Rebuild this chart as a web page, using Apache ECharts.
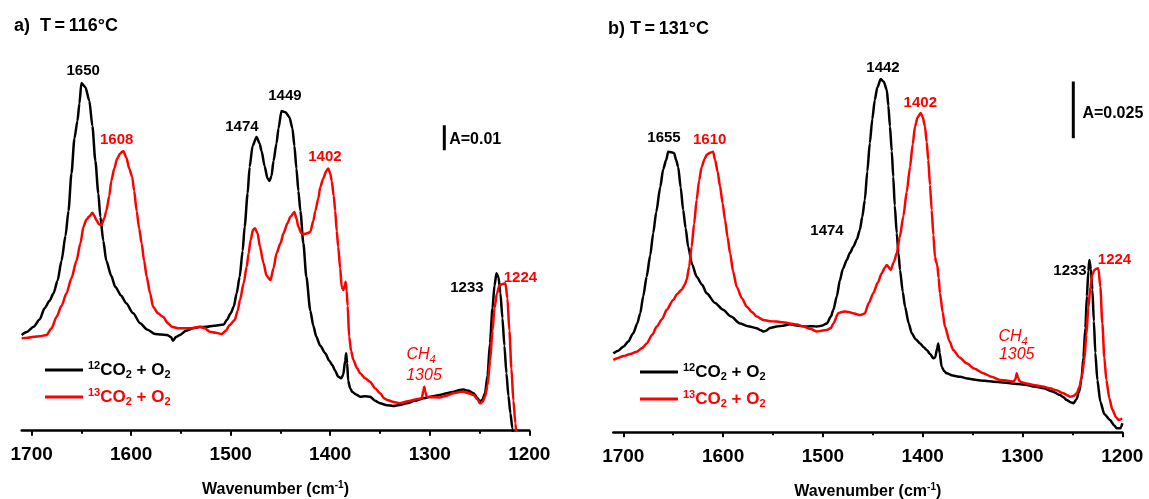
<!DOCTYPE html>
<html>
<head>
<meta charset="utf-8">
<script src="https://cdn.jsdelivr.net/npm/echarts@6/dist/echarts.min.js"></script>
<style>
  html, body { margin: 0; padding: 0; background: #fff; }
  #chart { width: 1149px; height: 499px; }
</style>
</head>
<body>
<div id="chart"></div>
<script>
const FONT = '"Liberation Sans", Arial, Helvetica, sans-serif';

// IR spectra: [wavenumber cm-1, absorbance]
// a) T = 116 °C
const spec116_12CO2 = [
  [1710,0.0383],[1705,0.0395],[1698,0.0416],[1692,0.0445],[1687,0.049],[1682,0.052],[1678,0.055],
  [1674,0.060],[1670,0.068],[1666,0.078],[1663,0.088],[1660,0.103],[1657,0.117],[1654,0.124],
  [1652,0.131],[1650,0.1392],[1646,0.1375],[1642,0.132],[1639,0.122],[1636,0.108],[1633,0.095],
  [1631,0.0856],[1628,0.076],[1625,0.068],[1620,0.062],[1616,0.0576],[1610,0.054],[1605,0.051],
  [1598,0.047],[1591,0.043],[1584,0.0405],[1576,0.0387],[1570,0.0385],[1564,0.0383],[1560,0.0375],
  [1558,0.036],[1555,0.0375],[1551,0.0383],[1545,0.040],[1538,0.041],[1531,0.0415],[1524,0.0416],
  [1517,0.042],[1511,0.0423],[1507,0.0425],[1504,0.0443],[1500,0.047],[1497,0.0496],[1494,0.055],
  [1491,0.0616],[1488,0.072],[1486,0.0816],[1483,0.095],[1481,0.1056],[1478,0.114],[1474,0.1176],
  [1471,0.115],[1469,0.112],[1466,0.106],[1463,0.101],[1461,0.100],[1459,0.102],[1457,0.108],
  [1454,0.115],[1452,0.121],[1449,0.128],[1445,0.1275],[1441,0.1255],[1438,0.121],[1436,0.114],
  [1434,0.105],[1432,0.096],[1430,0.088],[1427,0.075],[1424,0.0616],[1420,0.048],[1417,0.042],
  [1414,0.0376],[1410,0.034],[1405,0.031],[1401,0.028],[1398,0.0263],[1395,0.024],[1392,0.0216],
  [1389,0.021],[1387,0.0223],[1385,0.028],[1384,0.031],[1383,0.027],[1382,0.020],[1380,0.017],
  [1378,0.0156],[1374,0.0145],[1370,0.0136],[1365,0.0138],[1360,0.0136],[1355,0.012],[1350,0.011],
  [1343,0.0102],[1337,0.0099],[1330,0.0103],[1323,0.011],[1315,0.012],[1306,0.013],[1298,0.0137],
  [1290,0.0143],[1283,0.015],[1276,0.0156],[1270,0.0163],[1266,0.0165],[1261,0.016],[1256,0.015],
  [1252,0.013],[1249.5,0.0116],[1247,0.0125],[1244.5,0.015],[1242,0.022],[1239.5,0.035],
  [1237,0.049],[1235,0.058],[1233,0.063],[1231,0.0615],[1229,0.055],[1227,0.045],[1225,0.034],
  [1223,0.023],[1221,0.014],[1219,0.007],[1217,0.001],[1214,-0.01],[1210,-0.02]
];
const spec116_13CO2 = [
  [1710,0.037],[1704,0.0372],[1698,0.0376],[1692,0.0378],[1685,0.0383],[1680,0.041],[1675,0.0456],
  [1670,0.050],[1665,0.055],[1660,0.061],[1655,0.068],[1651,0.075],[1648,0.0816],[1645,0.0845],
  [1642,0.0858],[1639,0.0872],[1637,0.086],[1635,0.0843],[1632,0.0825],[1630,0.0823],[1627,0.085],
  [1625,0.088],[1622,0.094],[1620,0.100],[1617,0.105],[1614,0.109],[1611,0.111],[1608,0.112],
  [1605,0.1095],[1602,0.105],[1599,0.1016],[1597,0.096],[1594.5,0.088],[1592,0.081],[1589.5,0.075],
  [1587,0.068],[1584.4,0.0616],[1581,0.055],[1578,0.0496],[1573,0.047],[1568,0.0456],[1563,0.043],
  [1559,0.0416],[1553,0.041],[1547.6,0.041],[1540,0.041],[1531,0.0416],[1526,0.041],[1521,0.0396],
  [1515,0.0392],[1509,0.0387],[1505,0.040],[1501,0.0423],[1496,0.0443],[1493,0.048],[1490.7,0.0523],
  [1487,0.059],[1484,0.0656],[1482,0.071],[1480,0.0763],[1477.5,0.0805],[1475.6,0.081],[1473,0.079],
  [1470.6,0.0736],[1467,0.067],[1464,0.062],[1460,0.0603],[1457,0.065],[1454,0.071],[1450,0.075],
  [1447,0.079],[1443,0.083],[1440,0.0856],[1436,0.0876],[1434,0.085],[1432,0.0816],[1429,0.079],
  [1427,0.0787],[1423,0.079],[1420,0.0796],[1417,0.084],[1415,0.088],[1412,0.093],[1410,0.0976],
  [1407,0.101],[1404,0.104],[1402,0.105],[1400,0.103],[1398.5,0.100],[1396.5,0.094],[1395,0.088],
  [1393.5,0.080],[1392,0.0736],[1390,0.065],[1388.5,0.0576],[1387,0.0563],[1385.5,0.058],
  [1384.5,0.0596],[1383.5,0.056],[1382.5,0.050],[1381,0.0376],[1379,0.032],[1376.8,0.0283],
  [1373,0.025],[1370,0.023],[1365,0.021],[1360,0.0196],[1355,0.017],[1350,0.015],[1346,0.013],
  [1343,0.0123],[1336,0.0115],[1330,0.011],[1322,0.0118],[1313,0.0126],[1308,0.013],[1306.5,0.016],
  [1305.5,0.0176],[1304.5,0.0155],[1303,0.0136],[1297,0.0134],[1290,0.0133],[1283,0.014],
  [1276,0.015],[1270,0.0155],[1266,0.0156],[1261,0.015],[1256,0.0143],[1252,0.0125],[1249.5,0.011],
  [1247,0.0115],[1244.5,0.0136],[1242,0.018],[1239.4,0.028],[1237,0.040],[1235,0.049],[1232.5,0.055],
  [1230,0.0582],[1227,0.0587],[1224,0.059],[1222,0.053],[1220,0.040],[1218,0.025],[1216,0.012],
  [1214,0.003],[1212,-0.006],[1208,-0.02]
];
// b) T = 131 °C
const spec131_12CO2 = [
  [1710,0.0348],[1705,0.036],[1700,0.0377],[1695,0.040],[1690,0.0437],[1686,0.048],[1683,0.0525],
  [1680,0.060],[1676.6,0.0686],[1673,0.078],[1670,0.0878],[1667,0.097],[1663,0.108],[1660,0.116],
  [1657,0.120],[1655,0.1237],[1652,0.1235],[1649,0.123],[1647,0.120],[1645,0.117],[1642.5,0.108],
  [1640,0.098],[1637.5,0.090],[1635,0.0818],[1631,0.074],[1626.5,0.0686],[1621,0.065],[1616.5,0.0613],
  [1608,0.057],[1600,0.054],[1592,0.051],[1583,0.048],[1575,0.0468],[1566.5,0.0459],[1562,0.045],
  [1560,0.0444],[1557,0.0448],[1553,0.046],[1546.3,0.0466],[1540,0.047],[1533,0.0476],[1525,0.047],
  [1516,0.0466],[1510,0.0468],[1506,0.0466],[1501,0.047],[1496,0.048],[1492,0.051],[1489.5,0.054],
  [1486,0.060],[1483,0.067],[1480,0.072],[1476,0.076],[1473,0.079],[1469.5,0.0818],[1466,0.085],
  [1463,0.0892],[1460.5,0.095],[1458,0.1024],[1455.5,0.115],[1453,0.1274],[1450.5,0.138],
  [1448,0.1465],[1445.5,0.152],[1442,0.1557],[1439,0.1545],[1436,0.151],[1434.4,0.144],
  [1432.8,0.1348],[1431,0.124],[1429.5,0.1127],[1428,0.100],[1426,0.0878],[1424.3,0.079],
  [1422.7,0.0716],[1420,0.062],[1417.7,0.0554],[1414,0.048],[1411,0.0437],[1407,0.041],
  [1402.7,0.0392],[1399,0.0375],[1396,0.0363],[1392.5,0.0345],[1389.4,0.0326],[1387.5,0.033],
  [1385.5,0.037],[1384.4,0.0392],[1383,0.035],[1381,0.0289],[1378.5,0.027],[1376,0.026],[1370,0.025],
  [1362.6,0.0245],[1355,0.0237],[1346,0.023],[1338,0.0227],[1329,0.0223],[1320,0.022],
  [1312.5,0.0216],[1304,0.0213],[1295.8,0.0209],[1288,0.0202],[1279,0.0194],[1270,0.018],
  [1262.4,0.0164],[1259,0.0155],[1255.7,0.0142],[1252,0.0133],[1249,0.0128],[1246,0.0145],
  [1243.5,0.0175],[1241,0.023],[1239,0.033],[1237,0.046],[1235.5,0.060],[1234,0.071],[1233,0.076],
  [1231.5,0.072],[1230,0.063],[1228.5,0.049],[1227,0.035],[1225,0.023],[1222,0.0135],[1218,0.008],
  [1212.3,0.0054],[1208,0.003],[1205.6,0.0018],[1202,0.0018],[1201,0.0025],[1200,0.004]
];
const spec131_13CO2 = [
  [1710,0.0319],[1705,0.0328],[1700,0.0336],[1693,0.0345],[1686.6,0.0355],[1681,0.0372],
  [1676.5,0.0392],[1671,0.043],[1666.5,0.0466],[1661,0.050],[1656.5,0.054],[1650,0.0583],
  [1646,0.061],[1641.5,0.0628],[1638.5,0.065],[1636.5,0.0672],[1634,0.073],[1631.5,0.0818],
  [1629,0.092],[1626.5,0.1024],[1624,0.111],[1621.5,0.117],[1618.5,0.1205],[1616.5,0.1223],
  [1613,0.1232],[1610,0.1237],[1608,0.120],[1605.5,0.115],[1603,0.1083],[1600.5,0.101],
  [1598,0.0936],[1595.5,0.086],[1593,0.0789],[1590,0.071],[1586.4,0.0642],[1581,0.059],
  [1576.4,0.0554],[1571,0.053],[1566.3,0.051],[1559.7,0.0495],[1553,0.049],[1546.3,0.0488],
  [1540,0.0485],[1533,0.048],[1526,0.0475],[1519.6,0.0466],[1512,0.0455],[1506,0.0444],
  [1501,0.0448],[1496,0.0451],[1492,0.046],[1489.5,0.048],[1484.6,0.0525],[1481,0.053],
  [1478,0.0532],[1474,0.053],[1469.5,0.0525],[1466,0.052],[1463,0.0517],[1460,0.052],[1458,0.0525],
  [1454,0.057],[1449.5,0.0613],[1445,0.066],[1441,0.0701],[1438,0.0725],[1436,0.0738],[1432,0.0716],
  [1429,0.075],[1426,0.0789],[1423,0.086],[1419.4,0.0951],[1416,0.106],[1412.7,0.117],[1410,0.127],
  [1407.7,0.1348],[1405,0.139],[1402,0.1407],[1400,0.139],[1397.7,0.1348],[1396,0.128],
  [1394.4,0.120],[1392.7,0.109],[1391,0.098],[1389.3,0.087],[1387.7,0.0774],[1386.5,0.075],
  [1385.4,0.0738],[1384,0.068],[1382.7,0.0613],[1380,0.053],[1377.7,0.0466],[1373,0.040],
  [1369.4,0.0363],[1363,0.033],[1356,0.0304],[1348,0.028],[1339.3,0.026],[1331,0.0245],
  [1322.6,0.0231],[1315,0.0227],[1309,0.0223],[1307,0.0235],[1305.8,0.026],[1304.5,0.024],
  [1302.5,0.0223],[1296,0.0215],[1289,0.0209],[1280,0.0202],[1272.4,0.0194],[1266,0.0185],
  [1259,0.0172],[1255,0.0163],[1252.3,0.0157],[1249,0.016],[1245.6,0.0172],[1243,0.020],
  [1240.6,0.0245],[1238,0.032],[1236,0.043],[1234,0.055],[1232,0.064],[1230,0.0695],[1228,0.0715],
  [1226,0.0721],[1224,0.0723],[1222,0.064],[1220,0.048],[1218,0.033],[1216,0.023],[1213,0.015],
  [1210,0.010],[1206,0.0065],[1203.7,0.0054],[1201.5,0.0058],[1200.3,0.0062]
];

// axis ticks
const majorTicks = [1700, 1600, 1500, 1400, 1300, 1200];
const minorTicks = [1650, 1550, 1450, 1350, 1250];

// series names (legend)
const NAME12 = '12CO2 + O2';
const NAME13 = '13CO2 + O2';

// band annotations: text, anchor (wavenumber, absorbance), colour
const bandLabels116 = [
  { text: '1650', wn: 1648.2, a: 0.1439, color: '#000' },
  { text: '1608', wn: 1614.6, a: 0.1163, color: '#ff0000' },
  { text: '1474', wn: 1488.7, a: 0.1215, color: '#000' },
  { text: '1449', wn: 1445.5, a: 0.1339, color: '#000' },
  { text: '1402', wn: 1405.3, a: 0.1095, color: '#ff0000' },
  { text: '1233', wn: 1262.7, a: 0.0571, color: '#000' },
  { text: '1224', wn: 1208.9, a: 0.0613, color: '#ff0000' }
];
const bandLabels131 = [
  { text: '1655', wn: 1659.2, a: 0.1300, color: '#000' },
  { text: '1610', wn: 1613.4, a: 0.1288, color: '#ff0000' },
  { text: '1474', wn: 1495.9, a: 0.0887, color: '#000' },
  { text: '1442', wn: 1439.8, a: 0.1605, color: '#000' },
  { text: '1402', wn: 1402.4, a: 0.1452, color: '#ff0000' },
  { text: '1233', wn: 1252.4, a: 0.0711, color: '#000' },
  { text: '1224', wn: 1207.8, a: 0.0760, color: '#ff0000' }
];
// methane band notes
const ch4Notes116 = { wn: 1308.8, aName: 0.0303, wnPos: 1305.8, aPos: 0.0219, text: '1305' };
const ch4Notes131 = { wn: 1309.5, aName: 0.0420, wnPos: 1305.8, aPos: 0.0341, text: '1305' };
// absorbance scale bars
const scaleBar116 = { wn: 1285.4, from: 0.1123, size: 0.01, text: 'A=0.01', textWn: 1280.5, textA: 0.1165 };
const scaleBar131 = { wn: 1249.1, from: 0.1296, size: 0.025, text: 'A=0.025', textWn: 1240.0, textA: 0.1406 };

const chart = echarts.init(document.getElementById('chart'), null, { renderer: 'canvas' });

// fixed plot rectangles (no automatic shrinking around labels)
const grids = [
  { left: 21.7, right: 619.7, top: 56, bottom: 68.3, containLabel: false, outerBoundsMode: 'none' },
  { left: 613.3, right: 26.7, top: 58, bottom: 66.7, containLabel: false, outerBoundsMode: 'none' }
];
const yMax = [0.15, 0.165];

function xAxes(g) {
  const base = {
    type: 'value', gridIndex: g, min: 1200, max: 1710, inverse: true, position: 'bottom',
    splitLine: { show: false }
  };
  return [
    Object.assign({}, base, {
      axisLine: { onZero: false, lineStyle: { color: '#000', width: 2.5 } },
      axisTick: { customValues: majorTicks, length: 5, lineStyle: { color: '#000', width: 2 } },
      axisLabel: {
        customValues: majorTicks, margin: 15, color: '#000',
        fontSize: 19, fontWeight: 'bold', fontFamily: FONT,
        formatter: v => String(v)
      },
      name: 'Wavenumber (cm{s|-1})',
      nameLocation: 'middle',
      nameGap: 50,
      nameTextStyle: {
        color: '#000', fontSize: 16, fontWeight: 'bold', fontFamily: FONT, lineHeight: 18,
        rich: { s: { color: '#000', fontSize: 10, fontWeight: 'bold', fontFamily: FONT, verticalAlign: 'top', lineHeight: 18 } }
      }
    }),
    Object.assign({}, base, {
      axisLine: { show: false },
      axisTick: { customValues: minorTicks, length: 3, lineStyle: { color: '#000', width: 2 } },
      axisLabel: { show: false }
    })
  ];
}

function spectrum(name, data, color, g) {
  return {
    type: 'line', name, data, xAxisIndex: g * 2, yAxisIndex: g,
    symbol: 'none', smooth: 0.25, smoothMonotone: 'x', clip: true,
    lineStyle: { color, width: 2.5 }, itemStyle: { color }, z: 3,
    emphasis: { disabled: true }
  };
}

function anchoredLabel(text, extra) {
  return Object.assign({
    show: true, position: [0, 0], align: 'center', verticalAlign: 'middle',
    formatter: text, opacity: 1, textBorderWidth: 0
  }, extra);
}

function bandText(labels, g) {
  return {
    type: 'scatter', xAxisIndex: g * 2, yAxisIndex: g, symbolSize: 0, silent: true, z: 5,
    itemStyle: { color: 'transparent' },
    data: labels.map(l => ({
      value: [l.wn, l.a],
      label: anchoredLabel(l.text, {
        color: l.color, fontSize: 15, fontWeight: 'bold', fontFamily: FONT
      })
    }))
  };
}

const ch4Rich = {
  c: { color: '#ff0000', fontSize: 16, fontStyle: 'italic', fontFamily: FONT, lineHeight: 20 },
  s: { color: '#ff0000', fontSize: 11, fontStyle: 'italic', fontFamily: FONT, verticalAlign: 'bottom', lineHeight: 20 }
};
function ch4Text(n, g) {
  return {
    type: 'scatter', xAxisIndex: g * 2, yAxisIndex: g, symbolSize: 0, silent: true, z: 5,
    itemStyle: { color: 'transparent' },
    data: [
      { value: [n.wn, n.aName], label: anchoredLabel('{c|CH}{s|4}', { rich: ch4Rich }) },
      { value: [n.wnPos, n.aPos], label: anchoredLabel('{c|' + n.text + '}', { rich: ch4Rich }) }
    ]
  };
}

function scaleBar(b, g) {
  return [
    {
      type: 'line', xAxisIndex: g * 2, yAxisIndex: g, symbol: 'none', silent: true, z: 4,
      data: [[b.wn, b.from], [b.wn, b.from + b.size]],
      lineStyle: { color: '#000', width: 3 }, emphasis: { disabled: true }
    },
    {
      type: 'scatter', xAxisIndex: g * 2, yAxisIndex: g, symbolSize: 0, silent: true, z: 5,
      itemStyle: { color: 'transparent' },
      data: [{
        value: [b.textWn, b.textA],
        label: anchoredLabel(b.text, {
          align: 'left', color: '#000', fontSize: 16, fontWeight: 'bold', fontFamily: FONT
        })
      }]
    }
  ];
}

const legendRich = {
  ks: { color: '#000', fontSize: 11, fontWeight: 'bold', fontFamily: FONT, verticalAlign: 'top', lineHeight: 20 },
  k:  { color: '#000', fontSize: 17, fontWeight: 'bold', fontFamily: FONT, lineHeight: 20 },
  kb: { color: '#000', fontSize: 11, fontWeight: 'bold', fontFamily: FONT, verticalAlign: 'bottom', lineHeight: 20 },
  rs: { color: '#ff0000', fontSize: 11, fontWeight: 'bold', fontFamily: FONT, verticalAlign: 'top', lineHeight: 20 },
  r:  { color: '#ff0000', fontSize: 17, fontWeight: 'bold', fontFamily: FONT, lineHeight: 20 },
  rb: { color: '#ff0000', fontSize: 11, fontWeight: 'bold', fontFamily: FONT, verticalAlign: 'bottom', lineHeight: 20 }
};
function legendFormatter(name) {
  return name === NAME12
    ? '{ks|12}{k|CO}{kb|2}{k| + O}{kb|2}'
    : '{rs|13}{r|CO}{rb|2}{r| + O}{rb|2}';
}
function legendAt(left, top) {
  return {
    orient: 'vertical', left, top, data: [NAME12, NAME13],
    icon: 'rect', itemWidth: 38, itemHeight: 3, itemGap: 7, padding: 0,
    selectedMode: false, formatter: legendFormatter,
    textStyle: { fontFamily: FONT, lineHeight: 20, rich: legendRich }
  };
}

const option = {
  animation: false,
  backgroundColor: '#fff',
  title: [
    { text: 'a)  T\u2009=\u2009116°C', left: 14, top: 17, padding: 0,
      textStyle: { color: '#000', fontSize: 18, fontWeight: 'bold', fontFamily: FONT } },
    { text: 'b) T\u2009=\u2009131°C', left: 608, top: 20, padding: 0,
      textStyle: { color: '#000', fontSize: 18, fontWeight: 'bold', fontFamily: FONT } }
  ],
  legend: [legendAt(45, 360), legendAt(640, 362)],
  grid: grids,
  xAxis: [...xAxes(0), ...xAxes(1)],
  yAxis: [
    { type: 'value', gridIndex: 0, min: 0, max: yMax[0], show: false },
    { type: 'value', gridIndex: 1, min: 0, max: yMax[1], show: false }
  ],
  series: [
    spectrum(NAME12, spec116_12CO2, '#000000', 0),
    spectrum(NAME13, spec116_13CO2, '#ff0000', 0),
    spectrum(NAME12, spec131_12CO2, '#000000', 1),
    spectrum(NAME13, spec131_13CO2, '#ff0000', 1),
    bandText(bandLabels116, 0),
    bandText(bandLabels131, 1),
    ch4Text(ch4Notes116, 0),
    ch4Text(ch4Notes131, 1),
    ...scaleBar(scaleBar116, 0),
    ...scaleBar(scaleBar131, 1)
  ]
};

chart.setOption(option);
</script>
</body>
</html>
